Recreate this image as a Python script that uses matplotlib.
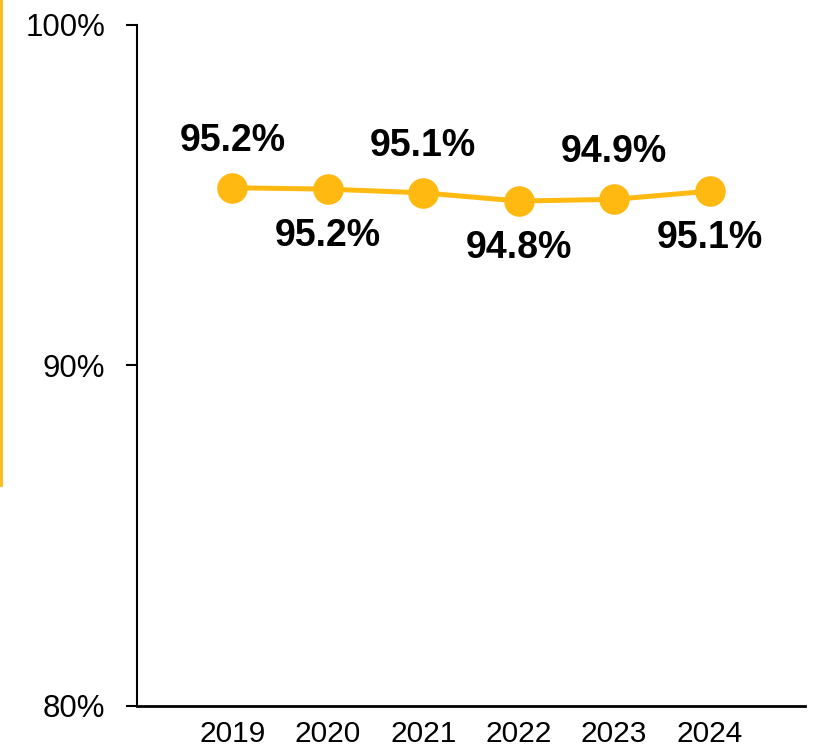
import matplotlib
matplotlib.use('Agg')
import matplotlib.pyplot as plt
from matplotlib.lines import Line2D

years = ['2019', '2020', '2021', '2022', '2023', '2024']
rates = [95.22, 95.18, 95.07, 94.83, 94.88, 95.12]
label_side = ['above', 'below', 'above', 'below', 'above', 'below']
y_ticks = [80, 90, 100]

gold = '#FFB910'

plt.rcParams['font.family'] = ['Liberation Sans', 'DejaVu Sans']

fig = plt.figure(figsize=(8.13, 7.47), dpi=100)
ax = fig.add_axes([137 / 813, 1 - 706 / 747, (805 - 137) / 813, (706 - 25) / 747])

x = list(range(len(years)))
ax.plot(x, rates, color=gold, lw=3.6, marker='o', markersize=21, zorder=3)

for i, (v, side) in enumerate(zip(rates, label_side)):
    off = 34 if side == 'above' else -34
    ax.annotate('{:.1f}%'.format(v), (i, v), xytext=(0, off), textcoords='offset points',
                ha='center', va='center', fontsize=27, fontweight='bold', color='black')

ax.set_xlim(-1, 6)
ax.set_ylim(80, 100)
ax.set_xticks(x)
ax.set_xticklabels(years)
ax.set_yticks(y_ticks)
ax.set_yticklabels(['{}%'.format(t) for t in y_ticks])
ax.tick_params(axis='x', length=0, labelsize=21.5, pad=10)
ax.tick_params(axis='y', length=8, width=1.5, labelsize=22.5, pad=15)
for s in ['top', 'right']:
    ax.spines[s].set_visible(False)
ax.spines['left'].set_linewidth(1.5)
ax.spines['bottom'].set_linewidth(2)

# yellow accent bar on the left edge
fig.add_artist(Line2D([1 / 813, 1 / 813], [1, 1 - 485 / 747], color=gold, lw=2,
                      transform=fig.transFigure))

fig.savefig('out.png', dpi=100)
